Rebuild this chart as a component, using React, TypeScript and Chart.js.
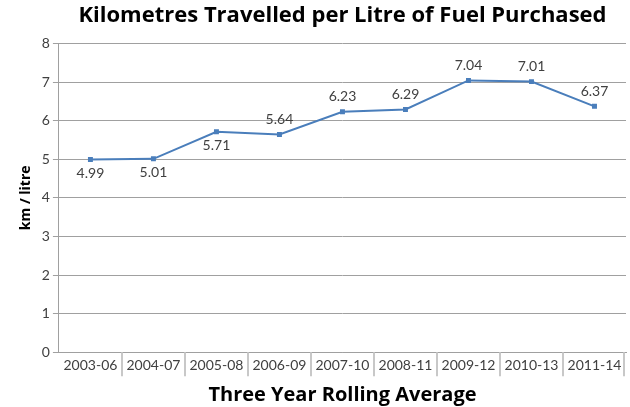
import React, { useEffect, useRef } from "react";
import { Chart, registerables } from "chart.js";

Chart.register(...registerables);

const categories = ["2003-06", "2004-07", "2005-08", "2006-09", "2007-10", "2008-11", "2009-12", "2010-13", "2011-14"];
const kmPerLitre = [4.99, 5.01, 5.71, 5.64, 6.23, 6.29, 7.04, 7.01, 6.37];
const labelBelow = [true, true, true, false, false, false, false, false, false];

const labelPlugin = {
  id: "valueLabels",
  afterDatasetsDraw(chart: any) {
    const ctx = chart.ctx;
    const meta = chart.getDatasetMeta(0);
    ctx.save();
    ctx.font = "14px Lato";
    ctx.fillStyle = "#404040";
    ctx.textAlign = "center";
    meta.data.forEach((pt: any, i: number) => {
      const v = kmPerLitre[i].toFixed(2);
      if (labelBelow[i]) {
        ctx.textBaseline = "top";
        ctx.fillText(v, pt.x, pt.y + 7);
      } else {
        ctx.textBaseline = "bottom";
        ctx.fillText(v, pt.x, pt.y - 8);
      }
    });
    ctx.restore();
  },
};

const dividerPlugin = {
  id: "dividers",
  afterDraw(chart: any) {
    const ctx = chart.ctx;
    const xs = chart.scales.x;
    const area = chart.chartArea;
    ctx.save();
    ctx.strokeStyle = "#C8C8C8";
    ctx.lineWidth = 2;
    for (let i = 1; i <= categories.length; i++) {
      const x = i < categories.length
        ? (xs.getPixelForValue(i - 1) + xs.getPixelForValue(i)) / 2
        : area.right - 2;
      ctx.beginPath();
      ctx.moveTo(Math.round(x), area.bottom);
      ctx.lineTo(Math.round(x), area.bottom + 24);
      ctx.stroke();
    }
    ctx.restore();
  },
};

export default function App() {
  const ref = useRef<HTMLCanvasElement>(null);
  useEffect(() => {
    const chart = new Chart(ref.current!, {
      type: "line",
      data: {
        labels: categories,
        datasets: [
          {
            data: kmPerLitre,
            borderColor: "#4A7EBB",
            backgroundColor: "#4A7EBB",
            borderWidth: 2,
            pointStyle: "rect",
            pointRadius: 3.5,
            pointBorderWidth: 0,
            tension: 0,
          },
        ],
      },
      options: {
        animation: false,
        responsive: false,
        layout: { padding: { top: 0, right: 0, left: 18, bottom: 0 } },
        plugins: {
          legend: { display: false },
          tooltip: { enabled: false },
          title: {
            display: true,
            fullSize: false,
            text: "Kilometres Travelled per Litre of Fuel Purchased",
            font: { family: "Open Sans", size: 22, weight: "bold" },
            color: "#000000",
            padding: { top: 3, bottom: 14 },
          },
        },
        scales: {
          x: {
            offset: true,
            grid: {
              offset: true,
              drawOnChartArea: false,
              drawTicks: false,
            },
            border: { color: "#A0A0A0", width: 1 },
            ticks: {
              color: "#404040",
              font: { family: "Lato", size: 14 },
              padding: 5,
              maxRotation: 0,
              autoSkip: false,
            },
            title: {
              display: true,
              text: "Three Year Rolling Average",
              color: "#000000",
              font: { family: "Open Sans", size: 20, weight: "bold" },
              padding: { top: 4, bottom: 0 },
            },
          },
          y: {
            min: 0,
            max: 8,
            ticks: {
              stepSize: 1,
              color: "#404040",
              font: { family: "Lato", size: 14 },
              padding: 3,
            },
            grid: { color: "#A0A0A0", tickLength: 6 },
            border: { color: "#A0A0A0" },
            title: {
              display: true,
              text: "km / litre",
              color: "#000000",
              font: { family: "Open Sans", size: 14, weight: "bold" },
              padding: { top: 0, bottom: 4 },
            },
          },
        },
      },
      plugins: [labelPlugin, dividerPlugin],
    });
    return () => chart.destroy();
  }, []);
  return (
    <div style={{ position: "fixed", left: 0, top: 0, width: 630, height: 407, background: "#fff" }}>
      <canvas ref={ref} width={630} height={407} />
    </div>
  );
}
